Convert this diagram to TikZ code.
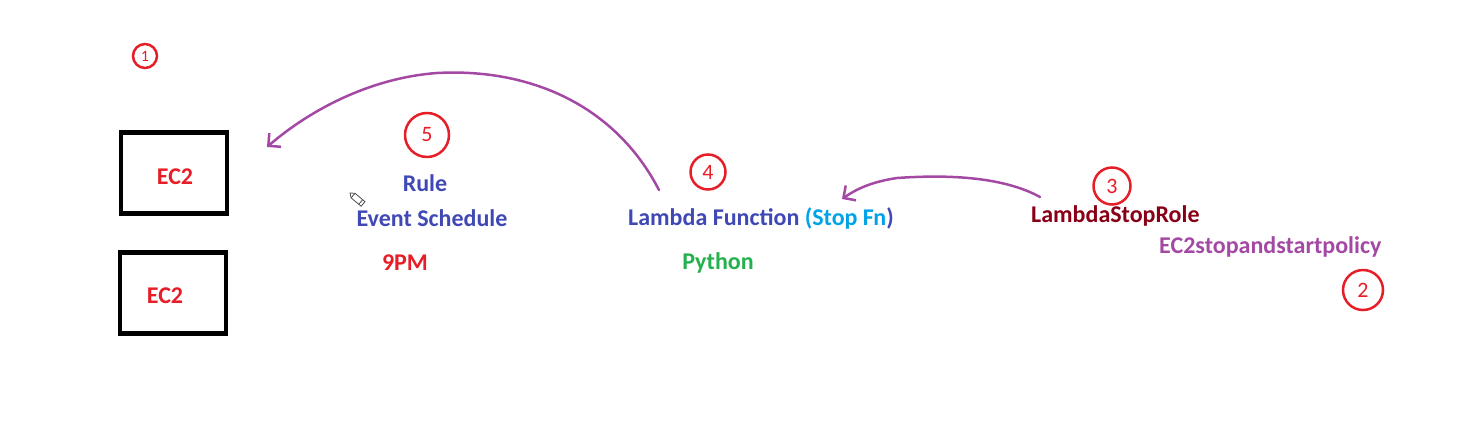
\documentclass[tikz,border=0pt]{standalone}
\usepackage{fontspec}
\setmainfont{Carlito}
\usetikzlibrary{arrows.meta}
\definecolor{pred}{RGB}{230,30,40}
\definecolor{pblue}{RGB}{63,72,180}
\definecolor{ppurple}{RGB}{163,73,164}
\definecolor{pcyan}{RGB}{0,162,232}
\definecolor{pgreen}{RGB}{34,177,76}
\definecolor{pdark}{RGB}{136,0,21}
\tikzset{
  ec2box/.style={draw=black,line width=4.5pt,minimum width=106pt,minimum height=81pt,inner sep=0pt},
  lbl/.style={font=\bfseries\fontsize{24}{26}\selectfont,inner sep=0pt},
  num/.style={draw=pred,circle,line width=2.5pt,text=pred,font=\fontsize{22}{24}\selectfont,inner sep=0pt},
  flow/.style={draw=ppurple,line width=2.5pt,line cap=round,-{Straight Barb[length=9pt,width=18pt,line width=2.5pt]}}
}
\begin{document}
\begin{tikzpicture}[x=1pt,y=-1pt]
\useasboundingbox (0,0) rectangle (1479,442);
% boxes
\node[ec2box] (b1) at (174,173) {};
\node[ec2box] (b2) at (173,293) {};
\node[lbl,text=pred] (e1) at (175,177) {EC2};
\node[lbl,text=pred] (e2) at (165,296) {EC2};
% numbers
\node[num,minimum size=24pt,font=\fontsize{16}{17}\selectfont] (n1) at (145,56) {1};
\node[num,minimum size=44pt] (n5) at (427,135) {5};
\node[num,minimum size=35pt] (n4) at (708,172) {4};
\node[num,minimum size=37pt] (n3) at (1112,186) {3};
\node[num,minimum size=40pt] (n2) at (1363,290) {2};
% labels
\node[lbl,text=pblue] (rule) at (425,183) {Rule};
\node[lbl,text=pblue] (evs) at (432,218) {Event Schedule};
\node[lbl,text=pred] (pm) at (405,263) {9PM};
\node[lbl,text=pblue,anchor=west] (lam) at (628,218) {Lambda Function \textcolor{pcyan}{(Stop Fn}\textcolor{pblue}{)}};
\node[lbl,text=pgreen] (py) at (718,263) {Python};
\node[lbl,text=pdark,anchor=west] (role) at (1031,216) {LambdaStopRole};
\node[lbl,text=ppurple,anchor=west] (pol) at (1159,247) {EC2stopandstartpolicy};
% pencil cursor
\begin{scope}[shift={(350,193)},rotate=-40]
  \draw[line width=0.8pt,draw=black!70] (0,0) -- (4,-3) -- (17,-3) -- (17,3) -- (4,3) -- cycle;
  \draw[line width=0.8pt,draw=black!70] (4,-3) -- (4,3) (14,-3) -- (14,3);
\end{scope}
% connectors
\coordinate (a1s) at (659,190);
\coordinate (a1e) at (267,147);
\coordinate (a2s) at (1040,197);
\coordinate (a2e) at (842,199);
\draw[flow] (a1s) .. controls (615,105) and (530,68) .. (437,73)
                  .. controls (370,78) and (310,110) .. (a1e);
\draw[flow] (a2s) .. controls (1000,175) and (940,175) .. (897,178)
                  .. controls (870,182) and (855,190) .. (a2e);
\end{tikzpicture}
\end{document}
